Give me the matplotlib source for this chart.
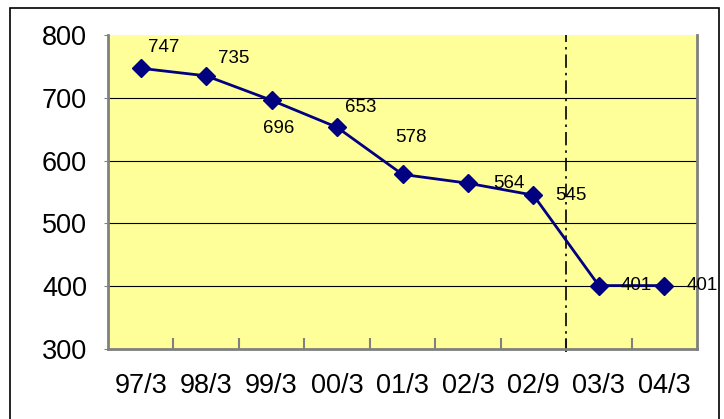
import numpy as np
import matplotlib.pyplot as plt
from matplotlib.patches import Rectangle

plt.rcParams['font.family'] = ['Liberation Sans', 'DejaVu Sans']

categories = ['97/3', '98/3', '99/3', '00/3', '01/3', '02/3', '02/9', '03/3', '04/3']
values = [747, 735, 696, 653, 578, 564, 545, 401, 401]
# label offsets in pixels (dx, dy) from each point
label_offsets = [(7, 21), (12, 17), (-9, -28), (8, 20), (-7, 37), (25, 0), (22, 0), (22, 0), (22, 0)]

W, H = 724, 419
fig = plt.figure(figsize=(W / 100, H / 100), dpi=100)
left, right, top, bottom = 108, 697, 35, 349
ax = fig.add_axes([left / W, 1 - bottom / H, (right - left) / W, (bottom - top) / H])
ax.set_facecolor('#FFFF99')

# outer chart border
fig.patches.append(Rectangle((10 / W, -0.05), 709 / W, 1 - 8 / H + 0.05,
                             transform=fig.transFigure, fill=False,
                             edgecolor='black', linewidth=1.2))

x = np.arange(len(categories))
ax.set_xlim(-0.5, len(categories) - 0.5)
ax.set_ylim(300, 800)

for yv in range(400, 800, 100):
    ax.axhline(yv, color='black', linewidth=0.8, zorder=1)

ax.plot(x, values, color='#000080', linewidth=2, marker='D', markersize=9,
        markerfacecolor='#000080', markeredgecolor='#000080', zorder=3)

for xi, v, (dx, dy) in zip(x, values, label_offsets):
    ax.annotate(str(v), (xi, v), xytext=(dx * 0.72, dy * 0.72), textcoords='offset points',
                fontsize=13.5, ha='left', va='center', color='black', zorder=4)

# separator between actual and later data
ax.axvline(6.5, ymin=-0.01, ymax=1, color='black', linewidth=1.2,
           linestyle=(0, (8, 3, 1.5, 3)), clip_on=False, zorder=2)

ax.set_yticks(range(300, 900, 100))
ax.set_yticklabels([str(t) for t in range(300, 900, 100)], fontsize=19.5)
ax.set_xticks(x)
ax.set_xticklabels(categories, fontsize=19.5)
ax.tick_params(axis='x', length=0, pad=17)
ax.set_xticks(np.arange(0.5, len(categories) - 0.5), minor=True)
ax.tick_params(axis='x', which='minor', direction='in', length=8, color='#808080', width=1.5)
ax.tick_params(axis='y', length=3, direction='out', color='#808080', pad=12)

for side in ['left', 'bottom', 'right']:
    ax.spines[side].set_color('#808080')
    ax.spines[side].set_linewidth(2)
ax.spines['top'].set_visible(False)

fig.savefig('out.png', dpi=100)
